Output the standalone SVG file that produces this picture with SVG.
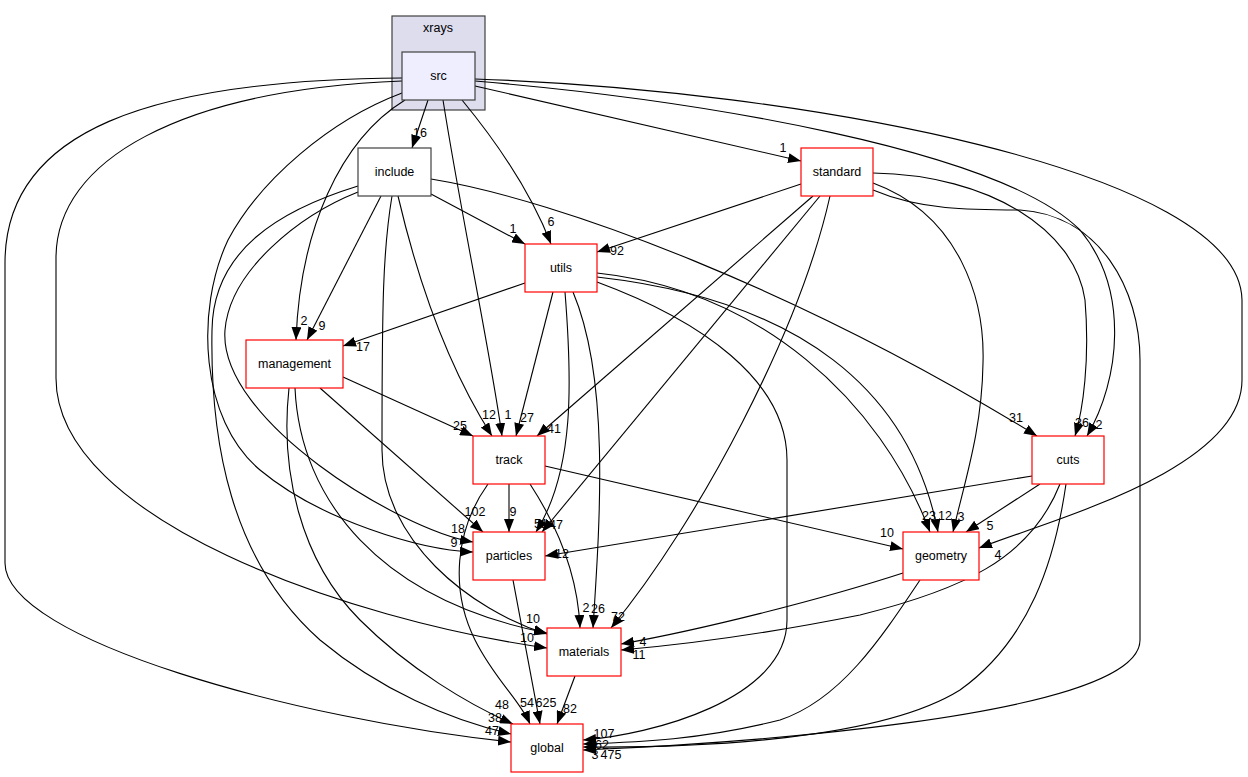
<svg xmlns="http://www.w3.org/2000/svg" width="1248" height="777" viewBox="0 0 1248 777">
<style>
text{font-family:"Liberation Sans",Arial,sans-serif;fill:#000}
.nl{font-size:12.5px;text-anchor:middle}
.el{font-size:12.5px;text-anchor:middle}
.rn{fill:#fff;stroke:#ff0000;stroke-width:1.2}
.e path{fill:none;stroke:#000;stroke-width:1.1;marker-end:url(#ah)}
</style>
<defs>
<marker id="ah" viewBox="0 0 13 10" refX="13" refY="5" markerWidth="13" markerHeight="10" orient="auto" markerUnits="userSpaceOnUse"><path d="M0,0 L13,5 L0,10 z" fill="#000"/></marker>
</defs>
<rect width="1248" height="777" fill="#fff"/>
<g id="cluster_xrays">
<rect x="392" y="16" width="93" height="94" fill="#ddddee" stroke="#404040" stroke-width="1.2"/>
<text class="nl" x="438" y="32">xrays</text>
</g>
<g id="connectors" class="e">
<path d="M428,100 L412,148"/>
<path d="M475,86 L801,161"/>
<path d="M462,100 C495,140 530,190 551,244"/>
<path d="M443,100 C462,220 490,350 502,436"/>
<path d="M405,100 C340,140 300,230 296,340"/>
<path d="M402,93 C330,120 260,180 228,240 C195,310 200,420 260,470 C320,520 420,550 473,552"/>
<path d="M402,81 C180,90 56,160 56,258 L56,378 C56,520 350,620 547,648"/>
<path d="M402,78 C150,80 5,130 5,263 L5,563 C5,640 300,720 511,742"/>
<path d="M475,81 C700,100 1000,150 1080,230 C1130,290 1120,380 1087,436"/>
<path d="M475,79 C800,90 1240,170 1242,300 L1242,380 C1242,470 1050,520 979,548"/>
<path d="M431,194 L525,244"/>
<path d="M381,196 L307,340"/>
<path d="M398,196 C420,290 450,370 492,436"/>
<path d="M358,192 C300,215 230,270 225,330 C218,420 400,530 473,542"/>
<path d="M358,186 C280,210 213,250 212,330 C210,440 230,560 320,640 C380,690 450,720 511,734"/>
<path d="M392,196 C383,250 382,300 382,450 C382,540 470,610 547,634"/>
<path d="M431,179 C560,200 800,290 1037,436"/>
<path d="M343,377 L473,436"/>
<path d="M320,388 L483,532"/>
<path d="M289,388 C280,470 300,560 360,620 C410,670 470,705 513,724"/>
<path d="M295,388 C300,500 380,600 547,633"/>
<path d="M509,484 L509,532"/>
<path d="M545,466 L903,549"/>
<path d="M530,484 C560,530 578,580 580,628"/>
<path d="M488,484 C455,530 450,590 475,640 C495,680 520,700 530,724"/>
<path d="M525,283 L343,346"/>
<path d="M553,292 L516,436"/>
<path d="M565,292 C572,380 575,470 536,532"/>
<path d="M573,292 C610,380 600,520 593,628"/>
<path d="M597,273 C760,290 880,400 930,532"/>
<path d="M597,277 C800,300 910,390 938,532"/>
<path d="M597,282 C700,320 787,380 787,460 L787,620 C787,700 650,735 583,740"/>
<path d="M801,184 L597,252"/>
<path d="M813,196 L537,436"/>
<path d="M820,196 L542,532"/>
<path d="M830,196 C800,330 700,520 611,628"/>
<path d="M873,183 C960,215 985,300 983,363 C982,430 965,480 953,532"/>
<path d="M873,173 C990,175 1075,230 1085,300 C1090,360 1083,410 1075,436"/>
<path d="M873,190 C920,210 970,210 1020,210 C1100,215 1140,290 1140,360 L1140,640 C1140,720 700,745 583,750"/>
<path d="M1032,476 L545,556"/>
<path d="M1040,484 L966,532"/>
<path d="M1060,484 C1030,560 960,590 860,615 C760,635 680,645 621,650"/>
<path d="M1066,484 C1055,560 1030,640 960,690 C880,740 700,748 583,747"/>
<path d="M903,573 C820,600 700,630 621,644"/>
<path d="M920,580 C880,640 840,700 780,720 C700,740 640,742 583,744"/>
<path d="M513,580 L540,724"/>
<path d="M575,676 L557,724"/>
</g>
<g id="edge_labels">
<text class="el" x="420" y="137">16</text>
<text class="el" x="783" y="152">1</text>
<text class="el" x="551" y="226">6</text>
<text class="el" x="513" y="233">1</text>
<text class="el" x="617" y="255">92</text>
<text class="el" x="304" y="325">2</text>
<text class="el" x="322" y="330">9</text>
<text class="el" x="363" y="351">17</text>
<text class="el" x="460" y="430">25</text>
<text class="el" x="489" y="419">12</text>
<text class="el" x="508" y="419">1</text>
<text class="el" x="527" y="422">27</text>
<text class="el" x="554" y="433">41</text>
<text class="el" x="1016" y="422">31</text>
<text class="el" x="1082" y="427">36</text>
<text class="el" x="1099" y="429">2</text>
<text class="el" x="475" y="516">102</text>
<text class="el" x="513" y="516">9</text>
<text class="el" x="458" y="533">18</text>
<text class="el" x="454" y="547">9</text>
<text class="el" x="541" y="528">51</text>
<text class="el" x="556" y="529">47</text>
<text class="el" x="562" y="558">12</text>
<text class="el" x="887" y="537">10</text>
<text class="el" x="929" y="520">23</text>
<text class="el" x="945" y="520">12</text>
<text class="el" x="961" y="521">3</text>
<text class="el" x="990" y="530">5</text>
<text class="el" x="998" y="559">4</text>
<text class="el" x="533" y="623">10</text>
<text class="el" x="527" y="642">10</text>
<text class="el" x="586" y="612">2</text>
<text class="el" x="598" y="613">26</text>
<text class="el" x="618" y="621">72</text>
<text class="el" x="643" y="646">4</text>
<text class="el" x="639" y="659">11</text>
<text class="el" x="502" y="709">48</text>
<text class="el" x="495" y="722">38</text>
<text class="el" x="492" y="735">47</text>
<text class="el" x="527" y="707">54</text>
<text class="el" x="546" y="707">625</text>
<text class="el" x="570" y="713">82</text>
<text class="el" x="604" y="738">107</text>
<text class="el" x="602" y="749">62</text>
<text class="el" x="595" y="759">3</text>
<text class="el" x="611" y="759">475</text>
</g>
<g id="node_src">
<rect x="402" y="52" width="73" height="48" fill="#eeeeff" stroke="#404040" stroke-width="1.2"/>
<text class="nl" x="438.5" y="80">src</text>
</g>
<g id="node_include">
<rect x="358" y="148" width="73" height="48" fill="#fff" stroke="#404040" stroke-width="1.2"/>
<text class="nl" x="394.5" y="176">include</text>
</g>
<g id="node_standard">
<rect class="rn" x="801" y="148" width="72" height="48"/>
<text class="nl" x="837" y="176">standard</text>
</g>
<g id="node_utils">
<rect class="rn" x="525" y="244" width="72" height="48"/>
<text class="nl" x="561" y="272">utils</text>
</g>
<g id="node_management">
<rect class="rn" x="246" y="340" width="97" height="48"/>
<text class="nl" x="294.5" y="368">management</text>
</g>
<g id="node_track">
<rect class="rn" x="473" y="436" width="72" height="48"/>
<text class="nl" x="509" y="464">track</text>
</g>
<g id="node_cuts">
<rect class="rn" x="1032" y="436" width="72" height="48"/>
<text class="nl" x="1068" y="464">cuts</text>
</g>
<g id="node_particles">
<rect class="rn" x="473" y="532" width="72" height="48"/>
<text class="nl" x="509" y="560">particles</text>
</g>
<g id="node_geometry">
<rect class="rn" x="903" y="532" width="76" height="48"/>
<text class="nl" x="941" y="560">geometry</text>
</g>
<g id="node_materials">
<rect class="rn" x="547" y="628" width="74" height="48"/>
<text class="nl" x="584" y="656">materials</text>
</g>
<g id="node_global">
<rect class="rn" x="511" y="724" width="72" height="48"/>
<text class="nl" x="547" y="752">global</text>
</g>
</svg>
